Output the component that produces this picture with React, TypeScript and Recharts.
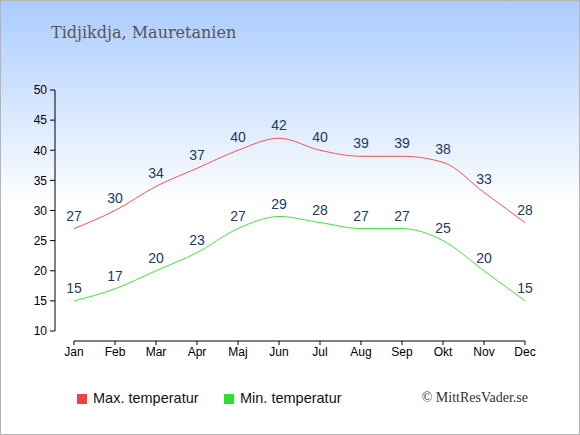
import React from "react";
import { LineChart, Line, XAxis, YAxis, LabelList } from "recharts";

const months = ["Jan", "Feb", "Mar", "Apr", "Maj", "Jun", "Jul", "Aug", "Sep", "Okt", "Nov", "Dec"];
const maxTemp = [27, 30, 34, 37, 40, 42, 40, 39, 39, 38, 33, 28];
const minTemp = [15, 17, 20, 23, 27, 29, 28, 27, 27, 25, 20, 15];
const yTicks = [10, 15, 20, 25, 30, 35, 40, 45, 50];

const data = months.map((m, i) => ({ month: m, max: maxTemp[i], min: minTemp[i] }));

const labelStyle = { fill: "#223a5e", fontSize: 14, fontFamily: "Liberation Sans, Arial, sans-serif" };

export default function App() {
    return (
        <div
            style={{
                position: "absolute",
                left: 0,
                top: 0,
                width: 580,
                height: 435,
                boxSizing: "border-box",
                border: "1px solid #b4b4b4",
                background: "linear-gradient(to bottom, #aaccff 0px, #ffffff 205px, #ffffff 435px)",
                overflow: "hidden",
            }}
        >
            {/* axis lines sit apart from the plot, labels are pushed with tickMargin */}
            <style>{`
                .recharts-yAxis { transform: translateX(-19px); }
                .recharts-xAxis { transform: translateY(10px); }
            `}</style>
            <div style={{ position: "absolute", left: -1, top: -1 }}>
                <LineChart width={580} height={435} data={data} margin={{ top: 90, right: 55, bottom: 74, left: 0 }}>
                    <XAxis
                        dataKey="month"
                        interval={0}
                        height={30}
                        tickSize={4}
                        tickMargin={12}
                        stroke="#000"
                        tick={{ fill: "#000", fontSize: 12, fontFamily: "Liberation Sans, Arial, sans-serif" }}
                    />
                    <YAxis
                        domain={[10, 50]}
                        ticks={yTicks}
                        width={74}
                        tickSize={5}
                        tickMargin={22}
                        stroke="#000"
                        tick={{ fill: "#000", fontSize: 12, fontFamily: "Liberation Sans, Arial, sans-serif" }}
                    />
                    <Line type="monotone" dataKey="max" stroke="#ee5555" strokeWidth={1} dot={false} isAnimationActive={false}>
                        <LabelList dataKey="max" position="top" offset={8} style={labelStyle} />
                    </Line>
                    <Line type="monotone" dataKey="min" stroke="#44e044" strokeWidth={1} dot={false} isAnimationActive={false}>
                        <LabelList dataKey="min" position="top" offset={8} style={labelStyle} />
                    </Line>
                </LineChart>
            </div>
            <svg width={580} height={435} style={{ position: "absolute", left: -1, top: -1, pointerEvents: "none" }}>
                <text x={51} y={38} fill="#555" fontSize={16} fontFamily="DejaVu Serif, serif">
                    Tidjikdja, Mauretanien
                </text>
                <rect x={77} y={394} width={10} height={10} fill="#ee4444" />
                <text x={93} y={403} fill="#111" fontSize={14.5} fontFamily="Liberation Sans, Arial, sans-serif">
                    Max. temperatur
                </text>
                <rect x={224} y={394} width={10} height={10} fill="#33dd33" />
                <text x={240} y={403} fill="#111" fontSize={14.5} fontFamily="Liberation Sans, Arial, sans-serif">
                    Min. temperatur
                </text>
                <text x={528} y={402} textAnchor="end" fill="#333" fontSize={14} fontFamily="Liberation Serif, serif">
                    © MittResVader.se
                </text>
            </svg>
        </div>
    );
}
